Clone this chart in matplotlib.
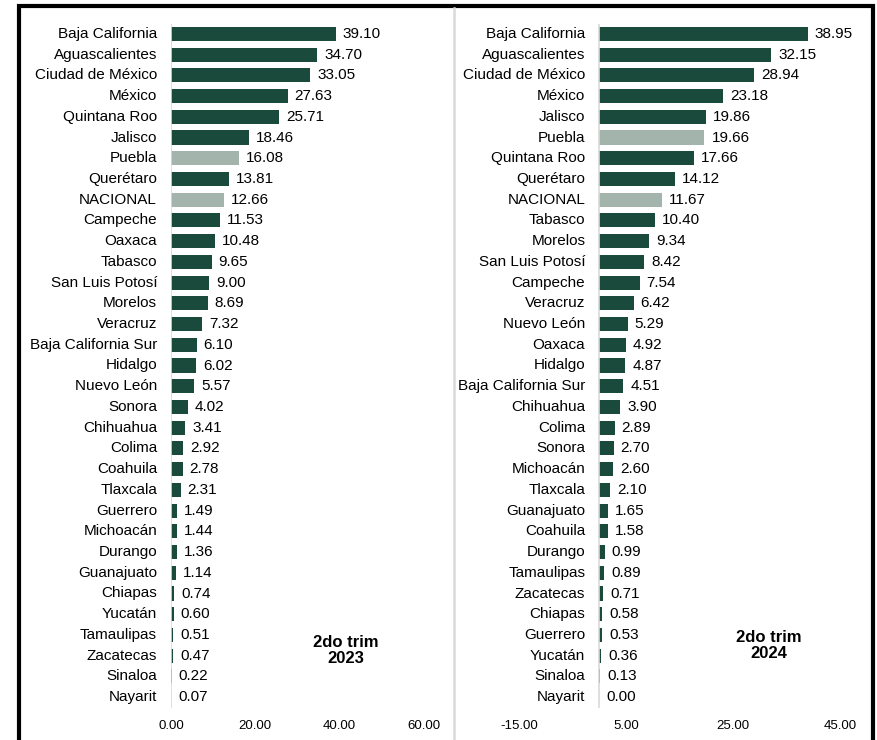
import matplotlib.pyplot as plt
from matplotlib.patches import Rectangle
from matplotlib.lines import Line2D

plt.rcParams['font.family'] = ['Liberation Sans', 'DejaVu Sans']

states_2023 = ["Baja California", "Aguascalientes", "Ciudad de México", "México",
               "Quintana Roo", "Jalisco", "Puebla", "Querétaro", "NACIONAL",
               "Campeche", "Oaxaca", "Tabasco", "San Luis Potosí", "Morelos",
               "Veracruz", "Baja California Sur", "Hidalgo", "Nuevo León", "Sonora",
               "Chihuahua", "Colima", "Coahuila", "Tlaxcala", "Guerrero",
               "Michoacán", "Durango", "Guanajuato", "Chiapas", "Yucatán",
               "Tamaulipas", "Zacatecas", "Sinaloa", "Nayarit"]
values_2023 = [39.10, 34.70, 33.05, 27.63, 25.71, 18.46, 16.08, 13.81, 12.66,
               11.53, 10.48, 9.65, 9.00, 8.69, 7.32, 6.10, 6.02, 5.57, 4.02,
               3.41, 2.92, 2.78, 2.31, 1.49, 1.44, 1.36, 1.14, 0.74, 0.60,
               0.51, 0.47, 0.22, 0.07]

states_2024 = ["Baja California", "Aguascalientes", "Ciudad de México", "México",
               "Jalisco", "Puebla", "Quintana Roo", "Querétaro", "NACIONAL",
               "Tabasco", "Morelos", "San Luis Potosí", "Campeche", "Veracruz",
               "Nuevo León", "Oaxaca", "Hidalgo", "Baja California Sur", "Chihuahua",
               "Colima", "Sonora", "Michoacán", "Tlaxcala", "Guanajuato",
               "Coahuila", "Durango", "Tamaulipas", "Zacatecas", "Chiapas",
               "Guerrero", "Yucatán", "Sinaloa", "Nayarit"]
values_2024 = [38.95, 32.15, 28.94, 23.18, 19.86, 19.66, 17.66, 14.12, 11.67,
               10.40, 9.34, 8.42, 7.54, 6.42, 5.29, 4.92, 4.87, 4.51, 3.90,
               2.89, 2.70, 2.60, 2.10, 1.65, 1.58, 0.99, 0.89, 0.71, 0.58,
               0.53, 0.36, 0.13, 0.00]

highlight = ["Puebla", "NACIONAL"]
ticks_2023 = [0, 20, 40, 60]
ticks_2024 = [-15, 5, 25, 45]

DARK = "#1a4a3b"
LIGHT = "#a3b4ad"

fig = plt.figure(figsize=(8.77, 7.40), dpi=100)


def panel(rect, names, vals, ticks, title, tpos):
    ax = fig.add_axes(rect)
    n = len(names)
    ys = list(range(n))
    colors = [LIGHT if s in highlight else DARK for s in names]
    ax.barh(ys, vals, height=0.68, color=colors)
    ax.set_ylim(n - 0.5, -0.5)
    ax.set_xlim(ticks[0], ticks[-1])
    ax.set_xticks(ticks)
    ax.set_xticklabels(["%.2f" % t for t in ticks], fontsize=9.5)
    ax.tick_params(axis='x', length=0, pad=9)
    ax.set_yticks([])
    for s in ax.spines.values():
        s.set_visible(False)
    ax.axvline(0, color="#d9d9d9", lw=1.2)
    for y, name, v in zip(ys, names, vals):
        ax.annotate(name, (0, y), xytext=(-10, 0), textcoords="offset points",
                    ha="right", va="center", fontsize=11)
        ax.annotate("%.2f" % v, (v, y), xytext=(5, 0), textcoords="offset points",
                    ha="left", va="center", fontsize=11)
    ax.text(tpos[0], tpos[1], title, transform=ax.transAxes, ha="center",
            va="center", fontsize=12, fontweight="bold", linespacing=1.05)
    return ax


panel([171 / 877, 1 - 707.5 / 740, 253 / 877, 684 / 740],
      states_2023, values_2023, ticks_2023, "2do trim\n2023", (0.69, 0.083))
panel([519 / 877, 1 - 707.5 / 740, 321 / 877, 684 / 740],
      states_2024, values_2024, ticks_2024, "2do trim\n2024", (0.779, 0.091))

# outer frame and separator
fig.patches.append(Rectangle((18.5 / 877, -0.05), 855 / 877, 1.05 - 6 / 740,
                             transform=fig.transFigure, fill=False,
                             edgecolor="black", lw=3))
fig.lines.append(Line2D([454 / 877, 454 / 877], [0, 1 - 8 / 740],
                        transform=fig.transFigure, color="#d9d9d9", lw=1.8))

fig.savefig("out.png", dpi=100)
